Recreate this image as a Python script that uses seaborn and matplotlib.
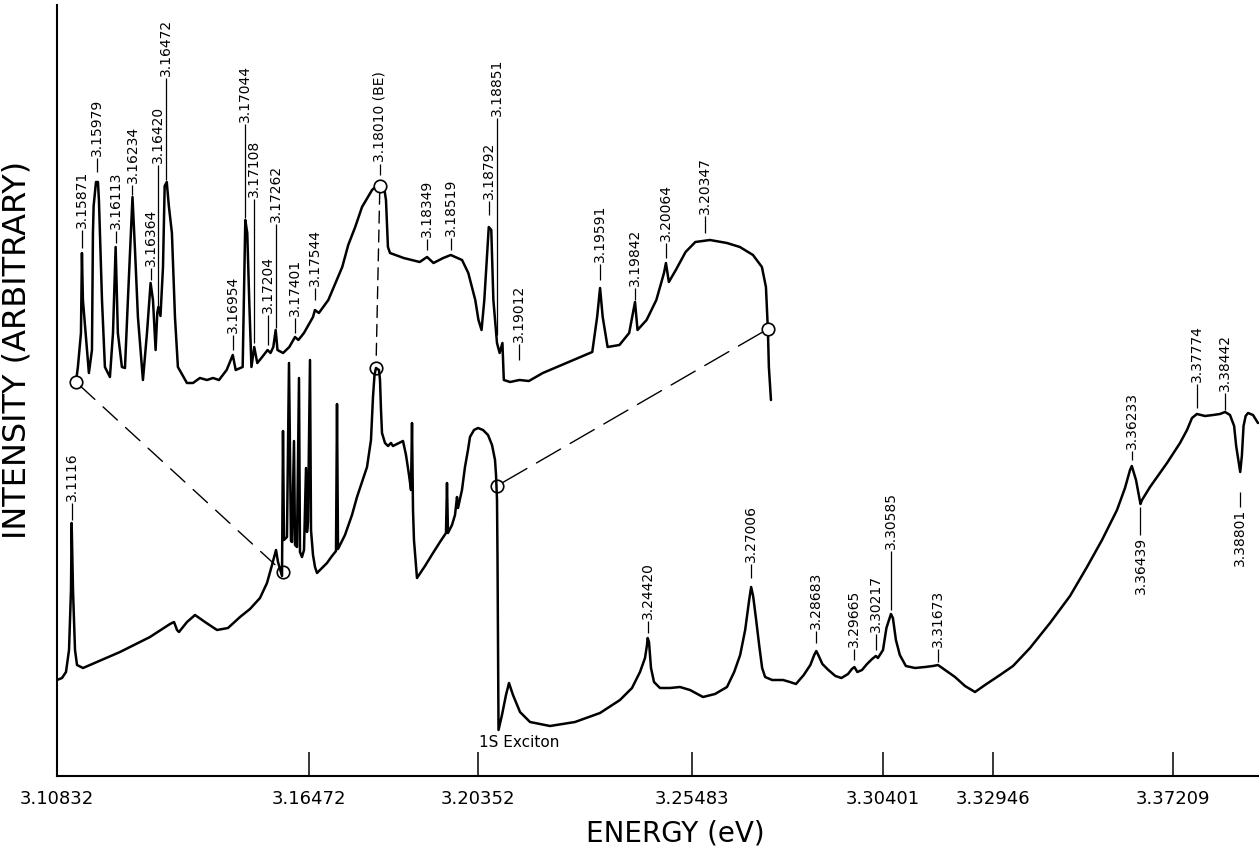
import numpy as np
import matplotlib
matplotlib.use("Agg")
import matplotlib.pyplot as plt
from matplotlib.patches import ConnectionPatch
import seaborn as sns

# ---- lower trace : whole range (energy in eV, intensity arbitrary) ----
lower_energy = [
    3.10832, 3.10944, 3.11033, 3.11101, 3.11145, 3.11160, 3.11190, 3.11235, 3.11280, 3.11414,
    3.12242, 3.12913, 3.13361, 3.13451, 3.13518, 3.13562, 3.13742, 3.13921, 3.14144, 3.14413,
    3.14659, 3.14928, 3.15151, 3.15375, 3.15532, 3.15644, 3.15734, 3.15778, 3.15868, 3.15890,
    3.15912, 3.15979, 3.16024, 3.16069, 3.16092, 3.16136, 3.16159, 3.16203, 3.16248, 3.16270,
    3.16315, 3.16360, 3.16405, 3.16427, 3.16449, 3.16495, 3.16518, 3.16564, 3.16610, 3.16656,
    3.16770, 3.16885, 3.17000, 3.17092, 3.17115, 3.17138, 3.17298, 3.17459, 3.17574, 3.17689,
    3.17804, 3.17895, 3.17941, 3.17976, 3.18010, 3.18079, 3.18102, 3.18125, 3.18148, 3.18217,
    3.18286, 3.18354, 3.18400, 3.18492, 3.18630, 3.18699, 3.18768, 3.18814, 3.18837, 3.18860,
    3.18882, 3.18951, 3.19135, 3.19319, 3.19479, 3.19617, 3.19640, 3.19663, 3.19755, 3.19824,
    3.19870, 3.19893, 3.19984, 3.20053, 3.20122, 3.20168, 3.20260, 3.20352, 3.20472, 3.20592,
    3.20688, 3.20760, 3.20784, 3.20808, 3.20820, 3.20832, 3.20844, 3.20927, 3.21023, 3.21095,
    3.21191, 3.21359, 3.21599, 3.22078, 3.22678, 3.23277, 3.23756, 3.24044, 3.24236, 3.24356,
    3.24404, 3.24420, 3.24452, 3.24500, 3.24572, 3.24715, 3.24955, 3.25195, 3.25435, 3.25766,
    3.26075, 3.26384, 3.26569, 3.26723, 3.26852, 3.26955, 3.27006, 3.27057, 3.27135, 3.27212,
    3.27289, 3.27366, 3.27546, 3.27826, 3.28006, 3.28160, 3.28360, 3.28530, 3.28630, 3.28683,
    3.28735, 3.28840, 3.28995, 3.29175, 3.29330, 3.29500, 3.29600, 3.29665, 3.29740, 3.29860,
    3.29990, 3.30120, 3.30217, 3.30270, 3.30401, 3.30480, 3.30585, 3.30630, 3.30700, 3.30790,
    3.30930, 3.31141, 3.31373, 3.31558, 3.31673, 3.31836, 3.32067, 3.32298, 3.32530, 3.32761,
    3.33112, 3.33420, 3.33822, 3.34296, 3.34770, 3.35172, 3.35528, 3.35883, 3.36072, 3.36191,
    3.36233, 3.36333, 3.36439, 3.36475, 3.36665, 3.37067, 3.37375, 3.37541, 3.37659, 3.37774,
    3.37967, 3.38157, 3.38320, 3.38442, 3.38559, 3.38657, 3.38705, 3.38801, 3.38840, 3.38880,
    3.38930, 3.38986, 3.39104, 3.39222,
]
lower_intensity = [
    96, 98, 104, 126, 186, 253, 186, 126, 111, 108,
    124, 139, 152, 154, 146, 144, 154, 161, 154, 146,
    148, 159, 167, 178, 193, 211, 226, 214, 200, 345,
    236, 239, 413, 235, 234, 335, 231, 229, 398, 224,
    219, 226, 308, 244, 254, 416, 246, 221, 209, 203,
    208, 213, 220, 225, 372, 227, 241, 261, 279, 294,
    309, 336, 379, 401, 408, 406, 396, 366, 343, 333,
    330, 333, 330, 332, 335, 321, 301, 286, 353, 266,
    236, 198, 210, 223, 234, 243, 293, 243, 251, 261,
    279, 268, 286, 309, 326, 339, 346, 348, 346, 341,
    331, 316, 301, 276, 216, 126, 46, 61, 81, 93,
    81, 64, 54, 50, 54, 63, 76, 88, 104, 118,
    131, 138, 134, 108, 94, 88, 88, 89, 86, 79,
    82, 89, 104, 121, 146, 176, 189, 180, 156, 131,
    108, 99, 96, 96, 94, 92, 101, 111, 121, 125,
    121, 112, 106, 100, 98, 102, 107, 109, 104, 106,
    112, 117, 120, 118, 126, 148, 162, 158, 136, 121,
    110, 108, 109, 110, 111, 106, 99, 90, 84, 91,
    101, 110, 128, 153, 180, 209, 236, 266, 288, 306,
    310, 296, 272, 276, 289, 313, 333, 346, 358, 362,
    360, 361, 362, 364, 361, 350, 330, 304, 320, 350,
    360, 363, 361, 353,
]

# ---- upper trace : expanded 3.158 - 3.208 eV region ----
upper_energy = [
    3.15828, 3.15842, 3.15864, 3.15871, 3.15878, 3.15907, 3.15921, 3.15943, 3.15950, 3.15955,
    3.15972, 3.15986, 3.15993, 3.16015, 3.16036, 3.16072, 3.16094, 3.16113, 3.16129, 3.16158,
    3.16180, 3.16201, 3.16234, 3.16252, 3.16273, 3.16309, 3.16338, 3.16364, 3.16381, 3.16400,
    3.16412, 3.16420, 3.16435, 3.16453, 3.16465, 3.16480, 3.16495, 3.16517, 3.16539, 3.16560,
    3.16625, 3.16668, 3.16718, 3.16769, 3.16812, 3.16855, 3.16910, 3.16954, 3.16975, 3.17025,
    3.17044, 3.17058, 3.17072, 3.17088, 3.17108, 3.17130, 3.17165, 3.17204, 3.17225, 3.17245,
    3.17262, 3.17275, 3.17315, 3.17360, 3.17401, 3.17425, 3.17465, 3.17530, 3.17544, 3.17572,
    3.17640, 3.17740, 3.17783, 3.17833, 3.17882, 3.17954, 3.18010, 3.18040, 3.18054, 3.18068,
    3.18083, 3.18181, 3.18296, 3.18349, 3.18395, 3.18465, 3.18519, 3.18600, 3.18645, 3.18695,
    3.18718, 3.18740, 3.18760, 3.18792, 3.18810, 3.18825, 3.18851, 3.18870, 3.18890, 3.18900,
    3.18945, 3.19012, 3.19080, 3.19180, 3.19350, 3.19535, 3.19570, 3.19591, 3.19610, 3.19645,
    3.19730, 3.19800, 3.19842, 3.19860, 3.19925, 3.19995, 3.20050, 3.20064, 3.20085, 3.20135,
    3.20205, 3.20275, 3.20380, 3.20502, 3.20595, 3.20689, 3.20753, 3.20782, 3.20796, 3.20803,
    3.20818,
]
upper_intensity = [
    394, 409, 443, 523, 476, 426, 403, 426, 543, 570,
    594, 594, 576, 476, 409, 399, 443, 529, 443, 409,
    408, 476, 579, 526, 459, 396, 443, 493, 476, 426,
    463, 469, 460, 509, 590, 594, 570, 543, 459, 409,
    393, 393, 398, 396, 398, 396, 406, 421, 406, 409,
    556, 543, 476, 409, 429, 413, 419, 426, 423, 429,
    446, 426, 423, 429, 439, 436, 443, 459, 466, 463,
    476, 509, 531, 549, 569, 586, 593, 589, 576, 529,
    523, 518, 514, 519, 513, 518, 521, 516, 503, 476,
    456, 446, 476, 549, 546, 476, 433, 423, 433, 396,
    394, 396, 395, 403, 413, 424, 459, 488, 459, 429,
    431, 443, 474, 446, 456, 476, 503, 513, 494, 506,
    524, 534, 536, 533, 529, 521, 509, 489, 446, 409,
    376,
]

# ---- energy axis (ticks sit at uneven places on the chart record) ----
tick_energy = [3.10832, 3.16472, 3.20352, 3.25483, 3.30401, 3.32946, 3.37209]
tick_labels = ["3.10832", "3.16472", "3.20352", "3.25483", "3.30401", "3.32946", "3.37209"]
tick_pos = [57, 309, 478, 692, 883, 993, 1173]

# ---- peak labels on the upper trace ----
upper_lbl = ["3.15871", "3.15979", "3.16113", "3.16234", "3.16364", "3.16420", "3.16472",
             "3.16954", "3.17044", "3.17108", "3.17204", "3.17262", "3.17401", "3.17544",
             "3.18010 (BE)", "3.18349", "3.18519", "3.18792", "3.18851", "3.19012",
             "3.19591", "3.19842", "3.20064", "3.20347"]
upper_lbl_e = [3.15871, 3.15979, 3.16113, 3.16234, 3.16364, 3.16420, 3.16472,
               3.16954, 3.17044, 3.17108, 3.17204, 3.17262, 3.17401, 3.17544,
               3.18010, 3.18349, 3.18519, 3.18792, 3.18851, 3.19012,
               3.19591, 3.19842, 3.20064, 3.20347]
upper_lbl_lo = [528, 604, 533, 581, 496, 466, 596, 426, 558, 433, 431, 448, 443, 476,
                601, 526, 526, 561, 441, 416, 496, 476, 518, 543]
upper_lbl_hi = [546, 618, 545, 591, 508, 611, 698, 441, 652, 577, 461, 552, 458, 488,
                612, 537, 538, 575, 658, 432, 512, 488, 533, 560]

# ---- peak labels on the lower trace ----
lower_lbl = ["3.1116", "3.24420", "3.27006", "3.28683", "3.29665", "3.30217", "3.30585",
             "3.31673", "3.36233", "3.37774", "3.38442"]
lower_lbl_e = [3.1116, 3.24420, 3.27006, 3.28683, 3.29665, 3.30217, 3.30585,
               3.31673, 3.36233, 3.37774, 3.38442]
lower_lbl_lo = [256, 143, 198, 133, 116, 126, 166, 114, 316, 368, 366]
lower_lbl_hi = [273, 155, 212, 145, 127, 142, 225, 127, 325, 392, 383]

# dips labelled from below
dip_lbl = ["3.36439", "3.38801"]
dip_lbl_e = [3.36439, 3.38801]
dip_lbl_hi = [269, 284]
dip_lbl_lo = [241, 269]

# circled points joined between the two traces
link_e_upper = [3.15828, 3.18010, 3.20796]
link_h_upper = [394, 590, 447]
link_e_lower = [3.15890, 3.18010, 3.20800]
link_h_lower = [204, 408, 290]
link_dash = [(0, (14, 8)), (0, (8.6, 5)), (0, (20, 8))]

sns.set_style("white")
plt.rcParams["font.family"] = ["DejaVu Sans"]
plt.rcParams["lines.scale_dashes"] = False
plt.rcParams["text.color"] = "black"
plt.rcParams["axes.labelcolor"] = "black"

W, H = 1259, 846
fig = plt.figure(figsize=(W / 100, H / 100), dpi=100)
ax = fig.add_axes([57 / W, (H - 776) / H, (W - 57) / W, 771 / H])

# piecewise energy -> chart position, extended linearly at both ends
knot_e = [3.08] + tick_energy + [3.42]
knot_p = [57 - (tick_energy[0] - 3.08) * 4468] + tick_pos + [1173 + (3.42 - 3.37209) * 4222]
ax.set_xscale("function", functions=(lambda e: np.interp(e, knot_e, knot_p),
                                     lambda p: np.interp(p, knot_p, knot_e)))

lw = 1.8
sns.lineplot(x=lower_energy, y=lower_intensity, ax=ax, sort=False, estimator=None,
             color="black", linewidth=lw, solid_joinstyle="round")
ax.set_xlim(3.10832, 3.39246)
ax.set_ylim(0, 771)

# upper trace has its own (expanded) energy scale
ax2 = ax.twiny()
sns.lineplot(x=upper_energy, y=upper_intensity, ax=ax2, sort=False, estimator=None,
             color="black", linewidth=lw, solid_joinstyle="round")
ax2.set_xlim(3.15692, 3.24322)
ax2.set_ylim(0, 771)
ax2.set_axis_off()

# labels
for txt, e, lo, hi in zip(upper_lbl, upper_lbl_e, upper_lbl_lo, upper_lbl_hi):
    ax2.vlines(e, lo, hi, color="black", linewidth=0.9)
    ax2.text(e, hi + 2, txt, rotation=90, ha="center", va="bottom", fontsize=10, color="black")
for txt, e, lo, hi in zip(lower_lbl, lower_lbl_e, lower_lbl_lo, lower_lbl_hi):
    ax.vlines(e, lo, hi, color="black", linewidth=0.9)
    ax.text(e, hi + 2, txt, rotation=90, ha="center", va="bottom", fontsize=10, color="black")
for txt, e, lo, hi in zip(dip_lbl, dip_lbl_e, dip_lbl_lo, dip_lbl_hi):
    ax.vlines(e, lo, hi, color="black", linewidth=0.9)
    ax.text(e, lo - 2, txt, rotation=90, ha="center", va="top", fontsize=10, color="black")

ax.text(3.21335, 34, "1S Exciton", ha="center", va="center", fontsize=11, color="black")

# circles and dashed links
ax2.plot(link_e_upper, link_h_upper, "o", mfc="white", mec="black", ms=9, mew=1.2, zorder=5)
ax.plot(link_e_lower, link_h_lower, "o", mfc="none", mec="black", ms=9, mew=1.2, zorder=5)
for eu, hu, el, hl, ls in zip(link_e_upper, link_h_upper, link_e_lower, link_h_lower, link_dash):
    con = ConnectionPatch(xyA=(eu, hu), coordsA="data", axesA=ax2,
                          xyB=(el, hl), coordsB="data", axesB=ax,
                          color="black", linewidth=1.0, linestyle=ls,
                          shrinkA=4.5, shrinkB=4.5)
    fig.add_artist(con)

# axes styling
ax.set_xticks(tick_energy, labels=tick_labels)
ax.set_yticks([])
ax.tick_params(axis="x", direction="in", length=17, width=1.1, pad=10, labelsize=13,
               colors="black")
for side in ["top", "right"]:
    ax.spines[side].set_visible(False)
for side in ["left", "bottom"]:
    ax.spines[side].set_linewidth(1.5)
    ax.spines[side].set_color("black")

ax.set_xlabel("ENERGY (eV)", fontsize=20, color="black")
ax.xaxis.set_label_coords(0.514, -0.057)
ax.set_ylabel("INTENSITY (ARBITRARY)", fontsize=23, color="black")
ax.yaxis.set_label_coords(-0.020, 0.553)

fig.savefig("out.png", dpi=100)
